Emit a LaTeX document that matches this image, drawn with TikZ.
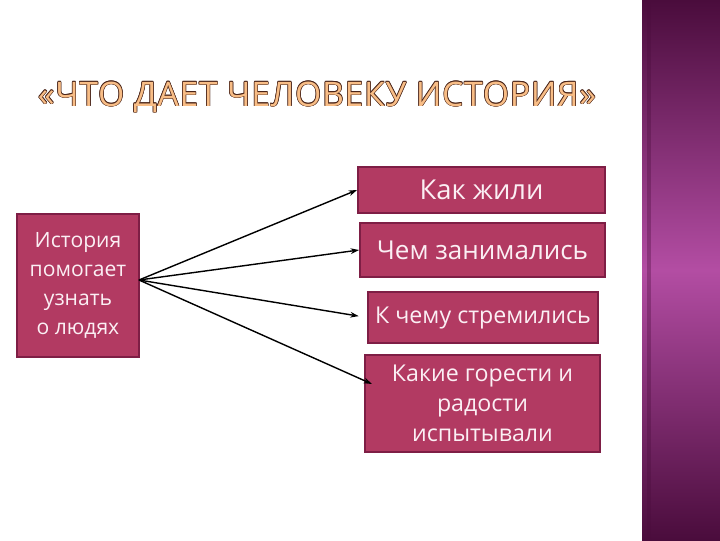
\documentclass[tikz,border=0pt]{standalone}
\usepackage{fontspec}
\setmainfont{Open Sans}
\newfontfamily\titlefont[LetterSpace=2]{Open Sans}
\usetikzlibrary{arrows.meta}

\definecolor{boxfill}{HTML}{B23A62}
\definecolor{boxline}{HTML}{7E1E45}
\definecolor{boxtext}{HTML}{FBEFF4}
\definecolor{titlefill}{HTML}{F8BD86}
\definecolor{titleline}{HTML}{4A2418}
\definecolor{stripdark}{HTML}{4A0C3C}
\definecolor{stripmid}{HTML}{B34DA3}

\newcommand{\titeltext}{«ЧТО ДАЕТ ЧЕЛОВЕКУ ИСТОРИЯ»}

\tikzset{
    kasten/.style={rectangle, draw=boxline, line width=1.3pt, fill=boxfill,
        text=boxtext, align=center, inner sep=2pt},
    pfeil/.style={-{Stealth[length=6pt,width=4pt]}, line width=1pt},
    titelschrift/.style={font=\titlefont\fontsize{24}{27}\selectfont}
}

\begin{document}
\begin{tikzpicture}[x=0.025cm, y=-0.025cm]
    \useasboundingbox (0,0) rectangle (720,540);
    \fill[white] (0,0) rectangle (720,540);
    % purple strip on the right
    \shade[top color=stripdark, bottom color=stripdark, middle color=stripmid]
        (642,0) rectangle (720,540);
    \fill[stripdark, opacity=0.35] (647,0) rectangle (651,540);

    % outlined title: dark copies round a light one
    \foreach \dx/\dy in {0.45/0,-0.45/0,0/0.45,0/-0.45,0.32/0.32,-0.32/0.32,0.32/-0.32,-0.32/-0.32}
        \node[titelschrift, text=titleline] at ([shift={(\dx pt,\dy pt)}]317,97) {\titeltext};
    \path node[titelschrift, text=titlefill] (titel) at (317,97) {\titeltext}
        node[kasten, minimum width=3.05cm, minimum height=3.575cm,
             font=\fontsize{15}{20.5}\selectfont] (hist) at (78,285.5)
            {История\\помогает\\узнать\\ о людях}
        node[kasten, minimum width=6.175cm, minimum height=1.15cm,
             font=\fontsize{19.5}{21}\selectfont] (kak) at (481.5,190) {Как жили}
        node[kasten, minimum width=6.125cm, minimum height=1.35cm,
             font=\fontsize{18.5}{21}\selectfont] (chem) at (482.5,250) {Чем занимались}
        node[kasten, minimum width=5.75cm, minimum height=1.275cm,
             font=\fontsize{16.5}{20}\selectfont] (kchemu) at (483,317.5) {К чему стремились}
        node[kasten, minimum width=5.875cm, minimum height=2.425cm,
             font=\fontsize{16.5}{21.5}\selectfont] (gore) at (482.5,403.5)
            {Какие горести и\\радости\\испытывали};

    \coordinate (hub) at (139,280);
    \coordinate (goreend) at (372,384);
    \draw[pfeil] (hub) -- (kak.west);
    \draw[pfeil] (hub) -- (chem.west);
    \draw[pfeil, shorten >=6\pgflinewidth] (hub) -- (kchemu.west);
    \draw[pfeil] (hub) -- (goreend);
\end{tikzpicture}
\end{document}
